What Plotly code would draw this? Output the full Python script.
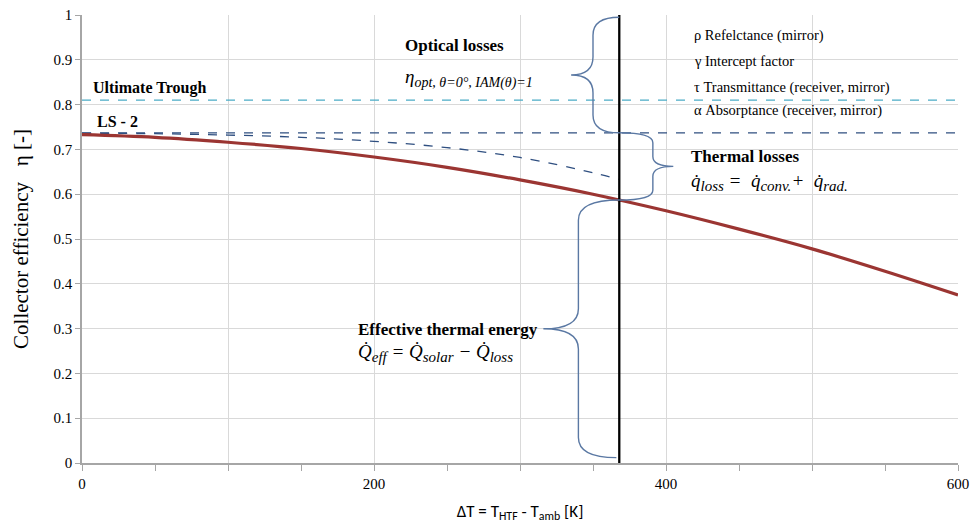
import plotly.graph_objects as go

# ---- data ----
dT = [0, 50, 100, 150, 200, 250, 300, 350, 400, 450, 500, 550, 600]
eta_ls2 = [0.733, 0.727, 0.716, 0.702, 0.683, 0.660, 0.632, 0.600, 0.563, 0.522, 0.478, 0.428, 0.375]

dT_opt_only = [0, 50, 100, 150, 200, 250, 300, 350, 368]
eta_opt_only = [0.736, 0.735, 0.732, 0.727, 0.718, 0.704, 0.682, 0.648, 0.633]

eta_ultimate = 0.81
eta_ls2_opt = 0.737
dT_design = 368
eta_design = 0.587
eta_top = 0.995
eta_bottom = 0.012

x_labels = [0, 200, 400, 600]
y_ticks = [0, 0.1, 0.2, 0.3, 0.4, 0.5, 0.6, 0.7, 0.8, 0.9, 1.0]
y_ticklabels = ["0", "0.1", "0.2", "0.3", "0.4", "0.5", "0.6", "0.7", "0.8", "0.9", "1"]

SERIF = "Liberation Serif"
BRACE = "#5a78a3"

fig = go.Figure()

# invisible trace to anchor the grid axis
fig.add_trace(go.Scatter(x=[dT[0], dT[-1]], y=[0, 0], xaxis="x2", mode="lines",
                         line=dict(width=0), opacity=0, hoverinfo="skip"))
fig.add_trace(go.Scatter(x=[dT[0], dT[-1]], y=[eta_ultimate, eta_ultimate], mode="lines",
                         line=dict(color="#4bacc6", width=1.3, dash="dash"), hoverinfo="skip"))
fig.add_trace(go.Scatter(x=[dT[0], dT[-1]], y=[eta_ls2_opt, eta_ls2_opt], mode="lines",
                         line=dict(color="#2f4f80", width=1.3, dash="dash"), hoverinfo="skip"))
fig.add_trace(go.Scatter(x=dT_opt_only, y=eta_opt_only, mode="lines", line_shape="spline",
                         line=dict(color="#2f4f80", width=1.3, dash="dash"), hoverinfo="skip"))
fig.add_trace(go.Scatter(x=dT, y=eta_ls2, mode="lines", line_shape="spline",
                         line=dict(color="#9b3532", width=3.2), hoverinfo="skip"))
fig.add_trace(go.Scatter(x=[dT_design, dT_design], y=[0, 1], mode="lines",
                         line=dict(color="black", width=2.3), hoverinfo="skip"))


def brace(x_end_top, x_end_bot, x_spine, x_tip, y_top, y_bot, r):
    ym = (y_top + y_bot) / 2
    p = (f"M {x_end_top},{y_top} Q {x_spine},{y_top} {x_spine},{y_top - r} "
         f"L {x_spine},{ym + r} Q {x_spine},{ym} {x_tip},{ym} "
         f"Q {x_spine},{ym} {x_spine},{ym - r} "
         f"L {x_spine},{y_bot + r} Q {x_spine},{y_bot} {x_end_bot},{y_bot}")
    return dict(type="path", path=p, xref="x", yref="y",
                line=dict(color=BRACE, width=1.4), layer="above")


shapes = [
    brace(dT_design, dT_design, dT_design - 18, dT_design - 33, eta_top, eta_ls2_opt, 0.04),
    brace(dT_design, dT_design, dT_design + 23, dT_design + 37, eta_ls2_opt, eta_design, 0.022),
    brace(dT_design, dT_design - 2, dT_design - 28, dT_design - 52, eta_design, eta_bottom, 0.045),
]

ann = []


def txt(x, y, t, size, bold=False, italic=False, family=SERIF):
    if bold:
        t = f"<b>{t}</b>"
    if italic:
        t = f"<i>{t}</i>"
    ann.append(dict(x=x, y=y, xref="x", yref="y", text=t, showarrow=False,
                    xanchor="left", yanchor="middle", font=dict(family=family, size=size, color="black")))


def sub(s, px=15):
    return f"<sub><span style='font-size:{px}px'>{s}</span></sub>"


txt(6, 0.838, "Ultimate Trough", 16, bold=True)
txt(9, 0.762, "LS - 2", 16, bold=True)
txt(220, 0.931, "Optical losses", 17, bold=True)
txt(220, 0.858, "η" + sub("opt, θ=0°, IAM(θ)=1", 14), 19, italic=True)
txt(418, 0.955, "ρ Refelctance (mirror)", 14.5)
txt(418, 0.897, "γ Intercept factor", 14.5)
txt(418, 0.839, "τ Transmittance (receiver, mirror)", 14.5)
txt(418, 0.786, "α Absorptance (receiver, mirror)", 14.5)
txt(416, 0.684, "Thermal losses", 17, bold=True)
txt(416, 0.627, "q̇" + sub("loss") + " =  q̇" + sub("conv.") + "+  q̇" + sub("rad."), 19, italic=True)
txt(188, 0.298, "Effective thermal energy", 17, bold=True)
txt(188, 0.246, "Q̇" + sub("eff") + " = Q̇" + sub("solar") + " − Q̇" + sub("loss"), 19, italic=True)

fig.update_layout(
    width=972, height=526,
    margin=dict(l=82, r=14, t=15, b=63),
    paper_bgcolor="white", plot_bgcolor="white",
    showlegend=False,
    shapes=shapes,
    annotations=ann,
    font=dict(family=SERIF),
    xaxis=dict(
        range=[0, 600], tickmode="array", tickvals=x_labels,
        showgrid=False, zeroline=False, automargin=False,
        showline=True, linecolor="#a6a6a6", linewidth=1.5,
        ticks="outside", ticklen=6, tickcolor="#a6a6a6", tickwidth=1,
        tickfont=dict(family=SERIF, size=15, color="black"),
        minor=dict(dtick=50, tick0=0, showgrid=False, ticks="outside", ticklen=6, tickcolor="#a6a6a6"),
        title=dict(text="ΔT = T<sub>HTF</sub> - T<sub>amb</sub> [K]",
                   font=dict(family="Carlito, Liberation Sans Narrow, Liberation Sans, sans-serif", size=17, color="black"),
                   standoff=14),
    ),
    xaxis2=dict(
        range=[0, 600], overlaying="x", dtick=100, tick0=0, showgrid=True, gridcolor="#d9d9d9",
        gridwidth=1, showticklabels=False, ticks="", zeroline=False, showline=False, automargin=False,
    ),
    yaxis=dict(
        range=[0, 1], tickmode="array", tickvals=y_ticks, ticktext=y_ticklabels,
        showgrid=True, gridcolor="#d9d9d9", gridwidth=1, zeroline=False, automargin=False,
        showline=True, linecolor="#a6a6a6", linewidth=1.5,
        ticks="outside", ticklen=5, tickcolor="#a6a6a6",
        tickfont=dict(family=SERIF, size=15, color="black"),
        title=dict(text="Collector efficiency   η [-]",
                   font=dict(family=SERIF, size=21, color="black"), standoff=19),
    ),
)

fig.write_html("out.html", config={"displayModeBar": False},
               post_script="document.body.style.margin='0px';")
